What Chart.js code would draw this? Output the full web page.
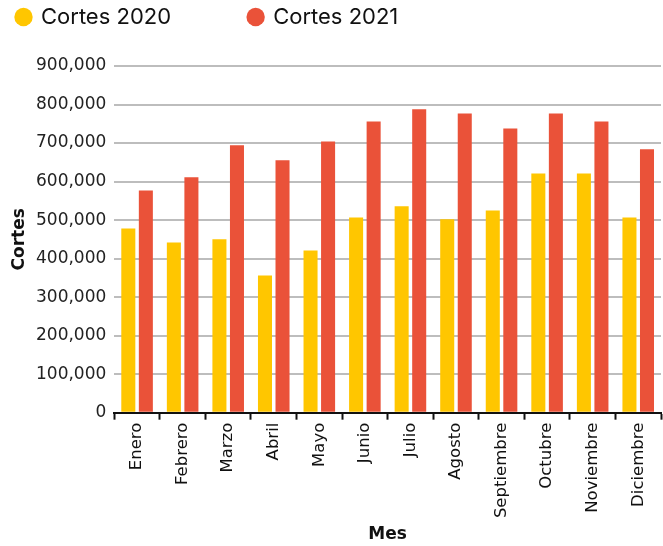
<!DOCTYPE html>
<html>
<head>
<meta charset="utf-8">
<script src="https://cdn.jsdelivr.net/npm/chart.js@4"></script>
<style>html,body{margin:0;padding:0;background:#fff}</style>
</head>
<body>
<canvas id="c" width="663" height="546"></canvas>
<script>
const meses = ['Enero','Febrero','Marzo','Abril','Mayo','Junio','Julio','Agosto','Septiembre','Octubre','Noviembre','Diciembre'];
const cortes2020 = [478000, 442000, 450000, 356000, 421000, 507000, 536000, 502000, 525000, 621000, 621000, 507000];
const cortes2021 = [577000, 611000, 694000, 655000, 704000, 756000, 788000, 777000, 738000, 777000, 756000, 684000];
const serieNombres = ['Cortes 2020', 'Cortes 2021'];
const yMax = 900000;
const yPaso = 100000;
const tituloY = 'Cortes';
const tituloX = 'Mes';

const FONT_LEG = 'Inter, "DejaVu Sans", sans-serif';
const FONT = '"DejaVu Sans", sans-serif';
const AMARILLO = '#FFC600';
const ROJO = '#EA5239';

const legendExtra = {
  id: 'legendExtra',
  beforeInit(chart) {
    const fit = chart.legend.fit;
    chart.legend.fit = function () {
      fit.bind(chart.legend)();
      this.height += 28;
    };
  }
};

new Chart(document.getElementById('c'), {
  type: 'bar',
  data: {
    labels: meses,
    datasets: [
      { label: serieNombres[0], data: cortes2020, backgroundColor: AMARILLO, borderWidth: 0,
        categoryPercentage: 0.77, barPercentage: 0.8 },
      { label: serieNombres[1], data: cortes2021, backgroundColor: ROJO, borderWidth: 0,
        categoryPercentage: 0.77, barPercentage: 0.8 }
    ]
  },
  options: {
    responsive: false,
    animation: false,
    layout: { padding: { left: 11, right: 2, top: 0, bottom: 0 } },
    plugins: {
      tooltip: { enabled: false },
      legend: {
        position: 'top',
        align: 'start',
        labels: {
          usePointStyle: true,
          pointStyle: 'circle',
          boxWidth: 13,
          boxHeight: 13,
          padding: 6,
          color: '#111',
          font: { family: FONT_LEG, size: 22 },
          generateLabels(chart) {
            const items = Chart.defaults.plugins.legend.labels.generateLabels(chart);
            items.forEach((it, i) => {
              if (i === 0) it.text = it.text + '           \u2009';
            });
            return items;
          }
        }
      }
    },
    scales: {
      x: {
        offset: true,
        border: { display: true, color: '#111', width: 2 },
        grid: { display: true, drawOnChartArea: false, drawTicks: true, tickLength: 7,
                tickColor: '#111', tickWidth: 2, offset: true },
        ticks: { color: '#111', font: { family: FONT, size: 16.5 }, minRotation: 90, maxRotation: 90,
                 padding: 3, autoSkip: false },
        title: { display: true, text: tituloX, color: '#111',
                 font: { family: FONT, size: 17, weight: 'bold', lineHeight: 1.2 },
                 padding: { top: 3, bottom: 1.5 } }
      },
      y: {
        min: 0,
        max: yMax,
        border: { display: false },
        grid: { color: '#bdbdbd', lineWidth: 2, drawTicks: false, tickLength: 0 },
        ticks: { stepSize: yPaso, color: '#222', padding: 8,
                 font: { family: FONT, size: 17 },
                 callback: v => Number(v).toLocaleString('en-US') },
        title: { display: true, text: tituloY, color: '#111',
                 font: { family: FONT, size: 17, weight: 'bold', lineHeight: 1 },
                 padding: { top: 0, bottom: 0 } }
      }
    }
  },
  plugins: [legendExtra]
});
</script>
</body>
</html>
